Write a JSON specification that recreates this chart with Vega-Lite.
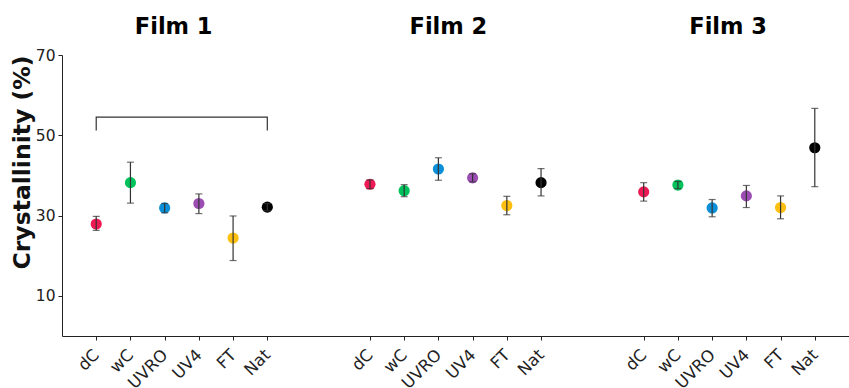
{
  "$schema": "https://vega.github.io/schema/vega-lite/v6.json",
  "width": 787,
  "height": 281,
  "autosize": "none",
  "padding": {"left": 62, "top": 55, "right": 0, "bottom": 52},
  "config": {
    "font": "DejaVu Sans",
    "view": {"stroke": null},
    "axis": {"grid": false, "domainColor": "#222", "tickColor": "#222", "labelColor": "#222", "titleColor": "#111", "tickSize": 4}
  },
  "datasets": {
    "pts": [
      {"film": "Film 1", "treatment": "dC", "key": "F1 dC", "value": 27.9, "lo": 26.3, "hi": 29.8},
      {"film": "Film 1", "treatment": "wC", "key": "F1 wC", "value": 38.2, "lo": 33.1, "hi": 43.3},
      {"film": "Film 1", "treatment": "UVRO", "key": "F1 UVRO", "value": 31.9, "lo": 30.7, "hi": 33.0},
      {"film": "Film 1", "treatment": "UV4", "key": "F1 UV4", "value": 33.0, "lo": 30.5, "hi": 35.4},
      {"film": "Film 1", "treatment": "FT", "key": "F1 FT", "value": 24.4, "lo": 18.8, "hi": 29.9},
      {"film": "Film 1", "treatment": "Nat", "key": "F1 Nat", "value": 32.1, "lo": 31.2, "hi": 33.0},
      {"film": "Film 2", "treatment": "dC", "key": "F2 dC", "value": 37.8, "lo": 36.7, "hi": 38.9},
      {"film": "Film 2", "treatment": "wC", "key": "F2 wC", "value": 36.2, "lo": 34.7, "hi": 37.7},
      {"film": "Film 2", "treatment": "UVRO", "key": "F2 UVRO", "value": 41.6, "lo": 38.8, "hi": 44.4},
      {"film": "Film 2", "treatment": "UV4", "key": "F2 UV4", "value": 39.4, "lo": 38.4, "hi": 40.4},
      {"film": "Film 2", "treatment": "FT", "key": "F2 FT", "value": 32.5, "lo": 30.2, "hi": 34.8},
      {"film": "Film 2", "treatment": "Nat", "key": "F2 Nat", "value": 38.2, "lo": 34.9, "hi": 41.7},
      {"film": "Film 3", "treatment": "dC", "key": "F3 dC", "value": 35.9, "lo": 33.6, "hi": 38.2},
      {"film": "Film 3", "treatment": "wC", "key": "F3 wC", "value": 37.6, "lo": 36.7, "hi": 38.5},
      {"film": "Film 3", "treatment": "UVRO", "key": "F3 UVRO", "value": 31.9, "lo": 29.7, "hi": 34.0},
      {"film": "Film 3", "treatment": "UV4", "key": "F3 UV4", "value": 34.9, "lo": 32.0, "hi": 37.5},
      {"film": "Film 3", "treatment": "FT", "key": "F3 FT", "value": 32.0, "lo": 29.2, "hi": 34.9},
      {"film": "Film 3", "treatment": "Nat", "key": "F3 Nat", "value": 46.9, "lo": 37.2, "hi": 56.7}
    ],
    "bracket": [
      {"key": "F1 dC", "y": 51.2, "ord": 1},
      {"key": "F1 dC", "y": 54.5, "ord": 2},
      {"key": "F1 Nat", "y": 54.5, "ord": 3},
      {"key": "F1 Nat", "y": 51.2, "ord": 4}
    ],
    "titles": [
      {"title": "Film 1", "key": "F1 UVRO"},
      {"title": "Film 2", "key": "F2 UVRO"},
      {"title": "Film 3", "key": "F3 UVRO"}
    ]
  },
  "layer": [
    {
      "data": {"name": "bracket"},
      "mark": {"type": "line", "color": "#333", "strokeWidth": 1.2},
      "encoding": {
        "x": {
          "field": "key", "type": "nominal",
          "scale": {"type": "point", "padding": 1, "domain": ["F1 dC","F1 wC","F1 UVRO","F1 UV4","F1 FT","F1 Nat","g1","g2","F2 dC","F2 wC","F2 UVRO","F2 UV4","F2 FT","F2 Nat","g3","g4","F3 dC","F3 wC","F3 UVRO","F3 UV4","F3 FT","F3 Nat"]},
          "axis": {
            "title": null,
            "values": ["F1 dC","F1 wC","F1 UVRO","F1 UV4","F1 FT","F1 Nat","F2 dC","F2 wC","F2 UVRO","F2 UV4","F2 FT","F2 Nat","F3 dC","F3 wC","F3 UVRO","F3 UV4","F3 FT","F3 Nat"],
            "labelExpr": "split(datum.label, ' ')[1]",
            "labelAngle": -45,
            "labelFontSize": 16.5,
            "labelPadding": 12,
            "labelAlign": "right",
            "labelBaseline": "middle"
          }
        },
        "y": {
          "field": "y", "type": "quantitative",
          "scale": {"domain": [0, 70], "nice": false, "zero": false},
          "axis": {
            "values": [10, 30, 50, 70],
            "title": "Crystallinity (%)",
            "titleFontSize": 23.5,
            "titleFontWeight": "bold",
            "titleX": -33,
            "titleY": 107,
            "titleBaseline": "alphabetic",
            "titleAlign": "center",
            "labelFontSize": 15.5,
            "labelPadding": 3
          }
        },
        "order": {"field": "ord"}
      }
    },
    {
      "data": {"name": "pts"},
      "mark": {"type": "circle", "size": 125, "opacity": 1},
      "encoding": {
        "x": {"field": "key", "type": "nominal"},
        "y": {"field": "value", "type": "quantitative"},
        "color": {
          "field": "treatment", "type": "nominal", "legend": null,
          "scale": {"domain": ["dC","wC","UVRO","UV4","FT","Nat"], "range": ["#EE1A55","#00C25C","#0A8FD8","#9B4DB4","#FDBF10","#000000"]}
        }
      }
    },
    {
      "data": {"name": "pts"},
      "mark": {"type": "rule", "color": "#333", "strokeWidth": 1.2},
      "encoding": {
        "x": {"field": "key", "type": "nominal"},
        "y": {"field": "lo", "type": "quantitative"},
        "y2": {"field": "hi"}
      }
    },
    {
      "data": {"name": "pts"},
      "mark": {"type": "tick", "color": "#333", "size": 7, "thickness": 1.2, "orient": "horizontal"},
      "encoding": {
        "x": {"field": "key", "type": "nominal"},
        "y": {"field": "lo", "type": "quantitative"}
      }
    },
    {
      "data": {"name": "pts"},
      "mark": {"type": "tick", "color": "#333", "size": 7, "thickness": 1.2, "orient": "horizontal"},
      "encoding": {
        "x": {"field": "key", "type": "nominal"},
        "y": {"field": "hi", "type": "quantitative"}
      }
    },
    {
      "data": {"name": "titles"},
      "transform": [{"filter": "datum.title == 'Film 1'"}],
      "mark": {"type": "text", "fontSize": 22.5, "fontWeight": "bold", "color": "#000", "baseline": "middle", "align": "center", "dx": 9},
      "encoding": {"x": {"field": "key", "type": "nominal"}, "y": {"datum": 77.0}, "text": {"field": "title"}}
    },
    {
      "data": {"name": "titles"},
      "transform": [{"filter": "datum.title == 'Film 2'"}],
      "mark": {"type": "text", "fontSize": 22.5, "fontWeight": "bold", "color": "#000", "baseline": "middle", "align": "center", "dx": 10},
      "encoding": {"x": {"field": "key", "type": "nominal"}, "y": {"datum": 77.0}, "text": {"field": "title"}}
    },
    {
      "data": {"name": "titles"},
      "transform": [{"filter": "datum.title == 'Film 3'"}],
      "mark": {"type": "text", "fontSize": 22.5, "fontWeight": "bold", "color": "#000", "baseline": "middle", "align": "center", "dx": 16},
      "encoding": {"x": {"field": "key", "type": "nominal"}, "y": {"datum": 77.0}, "text": {"field": "title"}}
    }
  ]
}
